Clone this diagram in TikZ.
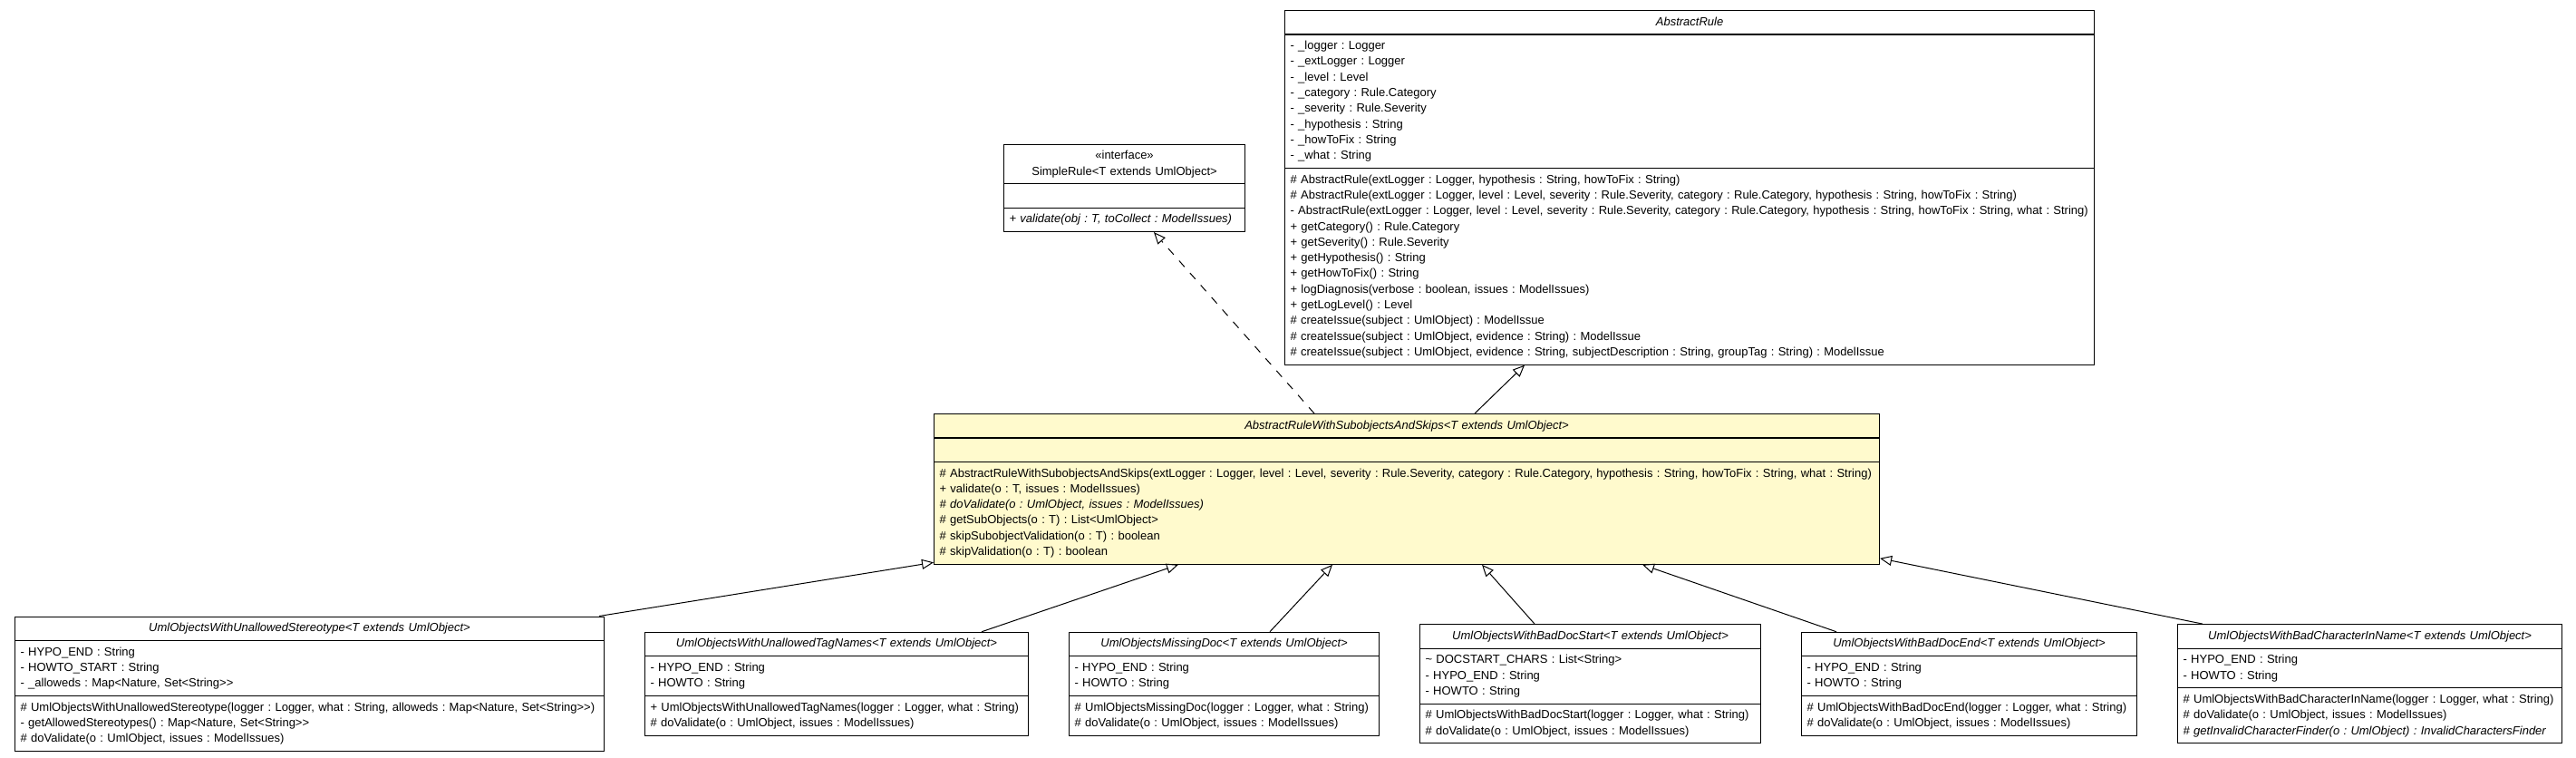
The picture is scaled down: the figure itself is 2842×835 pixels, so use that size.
\documentclass[tikz,border=0pt]{standalone}
\usepackage{fontspec}
\setmainfont{Liberation Sans}
\usetikzlibrary{shapes.multipart,arrows.meta,calc}
\definecolor{lemon}{RGB}{255,250,205}
\frenchspacing
\newcommand{\rl}[1]{\mbox{\strut#1}}
\newcommand{\ctr}[1]{\makebox[\linewidth][c]{\strut#1}}
\begin{document}
\frenchspacing
\begin{tikzpicture}[x=1pt,y=-1pt,
  umlclass/.style={draw=black, line width=1.1pt, rectangle split, rectangle split parts=3,
    anchor=north west, inner xsep=6pt, inner ysep=4pt, align=left,
    font=\fontsize{13}{17.3}\selectfont\frenchspacing, fill=white},
  gen/.style={draw=black, line width=1pt, -{Triangle[open, length=13pt, width=11pt]}},
  real/.style={gen, dash pattern=on 9pt off 9pt}]
\useasboundingbox (0,0) rectangle (2842,835);
\fill[white] (0,0) rectangle (2842,835);

\node[umlclass, text width=254pt] (simple) at (1107,158.5) {\ctr{«interface»}\\\ctr{SimpleRule<T extends UmlObject>}
\nodepart{second}\rl{}
\nodepart{third}\rl{\itshape + validate(obj : T, toCollect : ModelIssues)}};

\node[umlclass, text width=881pt] (ar) at (1417,11) {\ctr{\itshape AbstractRule}
\nodepart{second}
\rl{- \_logger : Logger}\\
\rl{- \_extLogger : Logger}\\
\rl{- \_level : Level}\\
\rl{- \_category : Rule.Category}\\
\rl{- \_severity : Rule.Severity}\\
\rl{- \_hypothesis : String}\\
\rl{- \_howToFix : String}\\
\rl{- \_what : String}
\nodepart{third}
\rl{\# AbstractRule(extLogger : Logger, hypothesis : String, howToFix : String)}\\
\rl{\# AbstractRule(extLogger : Logger, level : Level, severity : Rule.Severity, category : Rule.Category, hypothesis : String, howToFix : String)}\\
\rl{- AbstractRule(extLogger : Logger, level : Level, severity : Rule.Severity, category : Rule.Category, hypothesis : String, howToFix : String, what : String)}\\
\rl{+ getCategory() : Rule.Category}\\
\rl{+ getSeverity() : Rule.Severity}\\
\rl{+ getHypothesis() : String}\\
\rl{+ getHowToFix() : String}\\
\rl{+ logDiagnosis(verbose : boolean, issues : ModelIssues)}\\
\rl{+ getLogLevel() : Level}\\
\rl{\# createIssue(subject : UmlObject) : ModelIssue}\\
\rl{\# createIssue(subject : UmlObject, evidence : String) : ModelIssue}\\
\rl{\# createIssue(subject : UmlObject, evidence : String, subjectDescription : String, groupTag : String) : ModelIssue}};

\node[umlclass, text width=1031pt, fill=lemon] (mid) at (1030,456) {\ctr{\itshape AbstractRuleWithSubobjectsAndSkips<T extends UmlObject>}
\nodepart{second}\rl{}
\nodepart{third}
\rl{\# AbstractRuleWithSubobjectsAndSkips(extLogger : Logger, level : Level, severity : Rule.Severity, category : Rule.Category, hypothesis : String, howToFix : String, what : String)}\\
\rl{+ validate(o : T, issues : ModelIssues)}\\
\rl{\itshape \# doValidate(o : UmlObject, issues : ModelIssues)}\\
\rl{\# getSubObjects(o : T) : List<UmlObject>}\\
\rl{\# skipSubobjectValidation(o : T) : boolean}\\
\rl{\# skipValidation(o : T) : boolean}};

\node[umlclass, text width=638pt] (ster) at (16,679.5) {\ctr{\itshape UmlObjectsWithUnallowedStereotype<T extends UmlObject>}
\nodepart{second}
\rl{- HYPO\_END : String}\\
\rl{- HOWTO\_START : String}\\
\rl{- \_alloweds : Map<Nature, Set<String>{}>}
\nodepart{third}
\rl{\# UmlObjectsWithUnallowedStereotype(logger : Logger, what : String, alloweds : Map<Nature, Set<String>{}>)}\\
\rl{- getAllowedStereotypes() : Map<Nature, Set<String>{}>}\\
\rl{\# doValidate(o : UmlObject, issues : ModelIssues)}};

\node[umlclass, text width=411pt] (tag) at (711,696.75) {\ctr{\itshape UmlObjectsWithUnallowedTagNames<T extends UmlObject>}
\nodepart{second}
\rl{- HYPO\_END : String}\\
\rl{- HOWTO : String}
\nodepart{third}
\rl{+ UmlObjectsWithUnallowedTagNames(logger : Logger, what : String)}\\
\rl{\# doValidate(o : UmlObject, issues : ModelIssues)}};

\node[umlclass, text width=330pt] (miss) at (1179,696.75) {\ctr{\itshape UmlObjectsMissingDoc<T extends UmlObject>}
\nodepart{second}
\rl{- HYPO\_END : String}\\
\rl{- HOWTO : String}
\nodepart{third}
\rl{\# UmlObjectsMissingDoc(logger : Logger, what : String)}\\
\rl{\# doValidate(o : UmlObject, issues : ModelIssues)}};

\node[umlclass, text width=364pt] (bds) at (1566,688.1) {\ctr{\itshape UmlObjectsWithBadDocStart<T extends UmlObject>}
\nodepart{second}
\rl{\textasciitilde{} DOCSTART\_CHARS : List<String>}\\
\rl{- HYPO\_END : String}\\
\rl{- HOWTO : String}
\nodepart{third}
\rl{\# UmlObjectsWithBadDocStart(logger : Logger, what : String)}\\
\rl{\# doValidate(o : UmlObject, issues : ModelIssues)}};

\node[umlclass, text width=358pt] (bde) at (1987,696.75) {\ctr{\itshape UmlObjectsWithBadDocEnd<T extends UmlObject>}
\nodepart{second}
\rl{- HYPO\_END : String}\\
\rl{- HOWTO : String}
\nodepart{third}
\rl{\# UmlObjectsWithBadDocEnd(logger : Logger, what : String)}\\
\rl{\# doValidate(o : UmlObject, issues : ModelIssues)}};

\node[umlclass, text width=412pt] (bch) at (2402,688.1) {\ctr{\itshape UmlObjectsWithBadCharacterInName<T extends UmlObject>}
\nodepart{second}
\rl{- HYPO\_END : String}\\
\rl{- HOWTO : String}
\nodepart{third}
\rl{\# UmlObjectsWithBadCharacterInName(logger : Logger, what : String)}\\
\rl{\# doValidate(o : UmlObject, issues : ModelIssues)}\\
\rl{\itshape \# getInvalidCharacterFinder(o : UmlObject) : InvalidCharactersFinder}};

\draw[real] ($(mid.north west)+(420,0)$) -- ($(simple.south west)+(166,0)$);
\draw[gen] ($(mid.north west)+(597,0)$) -- ($(ar.south west)+(265,0)$);
\draw[gen] ($(ster.north west)+(645,0)$) -- ($(mid.south west)+(0,-2.5)$);
\draw[gen] ($(tag.north west)+(372,0)$) -- ($(mid.south west)+(270,0)$);
\draw[gen] ($(miss.north west)+(222,0)$) -- ($(mid.south west)+(440,0)$);
\draw[gen] ($(bds.north west)+(127,0)$) -- ($(mid.south west)+(605,0)$);
\draw[gen] ($(bde.north west)+(39,0)$) -- ($(mid.south west)+(782,0)$);
\draw[gen] ($(bch.north west)+(28,0)$) -- ($(mid.south east)+(0,-7)$);
\end{tikzpicture}
\end{document}
